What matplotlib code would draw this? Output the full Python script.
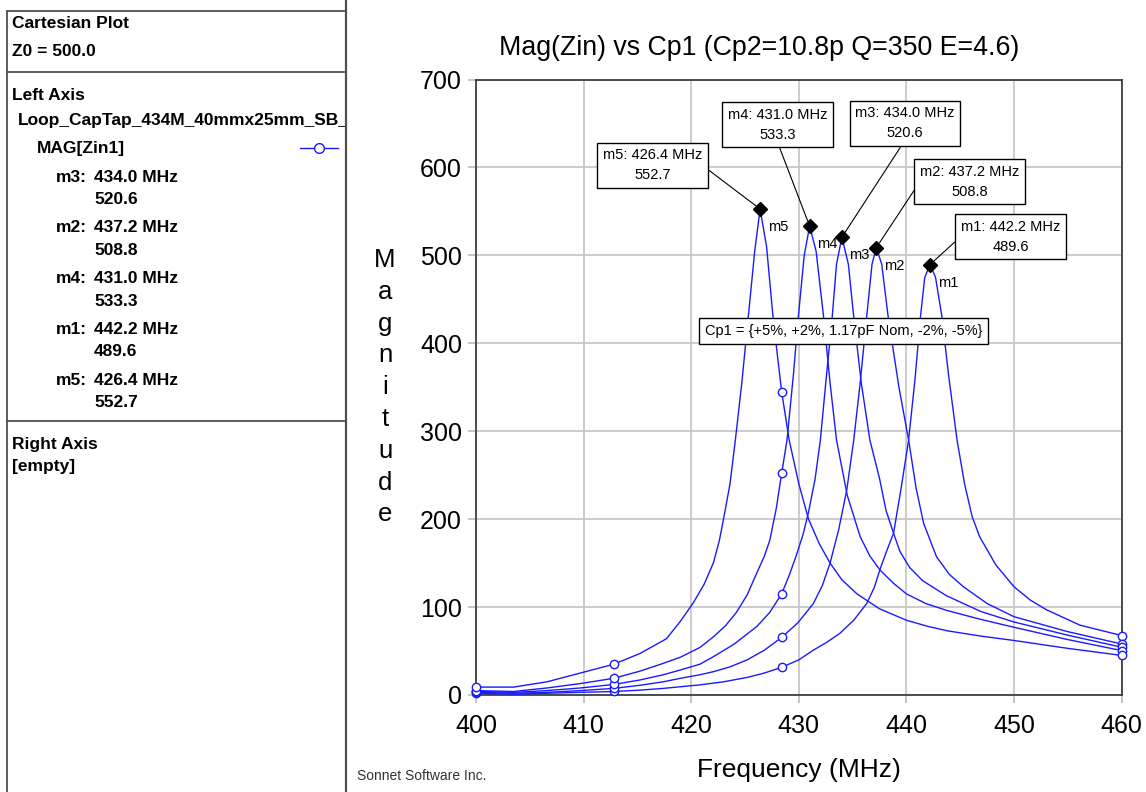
import matplotlib

matplotlib.use("Agg")
import numpy as np
import matplotlib.pyplot as plt
from matplotlib.transforms import Bbox, TransformedBbox

plt.rcParams["font.family"] = ["Liberation Sans", "DejaVu Sans"]

W, H = 1146, 792

# MAG[Zin1] for the five Cp1 values
F_M1 = [400, 403.5, 406.6, 409.7, 412.8, 415.2, 417.4, 419.0, 420.8, 423.0, 425.2, 426.8,
        428.4, 430.0, 431.35, 432.6, 433.8, 435.1, 436.3, 437.0, 437.6, 438.2, 438.8, 439.5,
        440.2, 440.8, 441.3, 441.7, 442.2, 442.7, 443.3, 443.9, 444.7, 445.4, 446.1, 446.8,
        448.3, 450.0, 451.5, 453.0, 456.1, 460.0]
Z_M1 = [2, 1, 2, 3, 4, 5.5, 7.5, 9.4, 11.5, 15, 20, 25,
        31.5, 40, 51, 60, 70, 85, 104, 122, 145, 165, 184, 235,
        290, 360, 430, 475, 489.6, 475, 430, 365, 290, 240, 203, 180,
        148, 123, 108, 97, 79.5, 67.6]

F_M2 = [400, 403.5, 406.6, 409.7, 412.8, 415.2, 417.4, 419.0, 420.8, 422.05, 423.6, 425.2,
        426.8, 428.4, 429.9, 431.35, 432.2, 432.9, 433.7, 434.45, 435.1, 435.7, 436.3, 436.8,
        437.2, 437.7, 438.3, 439.3, 440.2, 440.9, 441.6, 442.8, 444.0, 445.3, 447.5, 450.0,
        455.0, 460.0]
Z_M2 = [3, 2, 3, 5, 7.5, 11, 15, 19, 23, 26.5, 32, 40,
        51, 65.5, 82, 104, 125, 150, 188, 233, 290, 355, 430, 490,
        508.8, 490, 430, 350, 290, 235, 195, 157, 137, 123, 104, 89,
        72, 58]

F_M3 = [400, 403.5, 406.6, 409.7, 412.8, 415.2, 417.4, 419.0, 420.8, 422.05, 424.0, 426.1,
        427.3, 428.4, 429.1, 429.8, 430.4, 430.9, 431.5, 432.0, 432.5, 433.1, 433.5, 434.0,
        434.6, 435.1, 435.8, 436.6, 437.5, 438.1, 438.8, 439.4, 440.3, 441.5, 443.7, 446.9,
        450.0, 455.0, 460.0]
Z_M3 = [4, 3, 5, 8, 12, 17, 23, 28.5, 35, 43.5, 58, 78,
        94, 115, 136, 160, 183, 208, 245, 290, 355, 430, 490, 520.6,
        490, 430, 355, 290, 246, 210, 184, 163, 145, 130, 113, 95,
        83, 68, 54.3]

F_M4 = [400, 403.5, 406.6, 409.7, 412.8, 415.2, 417.4, 419.0, 420.8, 422.05, 423.2, 424.2,
        425.2, 426.1, 426.8, 427.3, 427.9, 428.4, 428.9, 429.5, 429.95, 430.5, 431.0, 431.6,
        432.3, 432.9, 433.5, 434.5, 435.7, 436.6, 437.55, 438.8, 440.0, 441.8, 443.8, 446.9,
        450.0, 455.0, 460.0]
Z_M4 = [5, 4, 8, 13, 19, 27, 36, 43, 54, 66, 79, 94,
        114, 139, 158, 176, 212, 252, 290, 365, 430, 500, 533.3, 505,
        430, 355, 290, 227, 180, 158, 142, 127, 115, 104, 96, 86,
        77, 63, 50.5]

F_M5 = [400, 403.5, 406.6, 409.7, 412.8, 415.2, 417.7, 419.0, 420.2, 421.2, 422.05, 422.6,
        423.0, 423.6, 424.1, 424.7, 425.3, 425.9, 426.4, 427.0, 427.6, 428.0, 428.4, 429.1,
        430.0, 430.9, 431.9, 432.9, 434.0, 435.4, 437.5, 440.0, 442.0, 443.8, 446.9, 450.0,
        455.0, 460.0]
Z_M5 = [9, 9, 15, 25, 35, 47, 64, 84, 105, 126, 150, 175,
        200, 240, 290, 355, 430, 505, 552.7, 510, 430, 387, 345, 290,
        240, 200, 172, 150, 131, 115, 98, 85, 78, 73, 67, 62,
        53, 45]

SYMBOL_FREQ = [400, 412.8, 428.4, 460]

MARKER_NAMES = ["m1", "m2", "m3", "m4", "m5"]
MARKER_FREQ = [442.2, 437.2, 434.0, 431.0, 426.4]
MARKER_MAG = [489.6, 508.8, 520.6, 533.3, 552.7]
PANEL_ORDER = ["m3", "m2", "m4", "m1", "m5"]

# box centre (data coords) and where the leader leaves the box
BOX_POS = {"m5": (416.4, 602.6), "m4": (428.0, 648.6), "m3": (439.85, 650.1),
           "m2": (445.86, 583.8), "m1": (449.66, 521.4)}
BOX_REL = {"m5": (1, 0.5), "m4": (0.5, 0), "m3": (0.5, 0), "m2": (0, 0.5), "m1": (0, 0.5)}

BLUE = "#1a1aff"

fig = plt.figure(figsize=(W / 100, H / 100), dpi=100)

ax = fig.add_axes([476 / W, 1 - 695 / H, 645.7 / W, 615.5 / H])
ax.set_xlim(400, 460)
ax.set_ylim(0, 700)
ax.set_xticks(np.arange(400, 461, 10))
ax.set_yticks(np.arange(0, 701, 100))
ax.grid(True, color="#c8c8c8", lw=1.3)
ax.tick_params(direction="out", length=6, width=1.3, color="#c0c0c0",
               labelsize=18, pad=4)
ax.tick_params(axis="x", pad=8)
for s in ax.spines.values():
    s.set_color("#404040")
    s.set_linewidth(1.3)

for f, z in [(F_M1, Z_M1), (F_M2, Z_M2), (F_M3, Z_M3), (F_M4, Z_M4), (F_M5, Z_M5)]:
    ax.plot(f, z, color=BLUE, lw=1.0, zorder=3, clip_on=False)
    ax.plot(SYMBOL_FREQ, np.interp(SYMBOL_FREQ, f, z), "o", ms=6, mfc="white",
            mec=BLUE, mew=1.0, zorder=4, clip_on=False)

ax.plot(MARKER_FREQ, MARKER_MAG, "D", color="black", ms=7.5, zorder=7)
for name, f, z in zip(MARKER_NAMES, MARKER_FREQ, MARKER_MAG):
    ax.annotate(name, (f, z), xytext=(5.5, -13), textcoords="offset points",
                ha="left", va="center", fontsize=10.5, zorder=7)
    ax.annotate(f"{name}: {f:.1f} MHz\n{z:.1f}", (f, z), xytext=BOX_POS[name],
                textcoords="data", ha="center", va="center", multialignment="center",
                fontsize=10.5, linespacing=1.55, zorder=8,
                bbox=dict(boxstyle="square,pad=0.38", fc="white", ec="black", lw=1.0),
                arrowprops=dict(arrowstyle="-", color="black", lw=0.8,
                                relpos=BOX_REL[name], shrinkA=0, shrinkB=4))

ax.text(434.14, 413.6, "Cp1 = {+5%, +2%, 1.17pF Nom, -2%, -5%}", ha="center", va="center",
        fontsize=10.5, zorder=8,
        bbox=dict(boxstyle="square,pad=0.4", fc="white", ec="black", lw=1.0))

# overlay in pixel coordinates for panel, title and labels
over = fig.add_axes([0, 0, 1, 1], zorder=-1)
over.set_xlim(0, W)
over.set_ylim(H, 0)
over.axis("off")

over.text(759, 48, "Mag(Zin) vs Cp1 (Cp2=10.8p Q=350 E=4.6)", ha="center", va="center",
          fontsize=19.3)
over.text(799, 770, "Frequency (MHz)", ha="center", va="center", fontsize=19)
for i, ch in enumerate("Magnitude"):
    over.text(385, 267 + 31.8 * i, ch, ha="center", va="baseline", fontsize=18.5)
over.text(357, 776, "Sonnet Software Inc.", ha="left", va="center", fontsize=10,
          color="#333333")

# left info panel
PC = "#505050"
over.plot([7, 346], [11, 11], color=PC, lw=1.3)
over.plot([7, 7], [11, H], color=PC, lw=1.3)
over.plot([346, 346], [0, H], color=PC, lw=1.6)
over.plot([7, 346], [71.5, 71.5], color=PC, lw=1.3)
over.plot([7, 346], [421, 421], color=PC, lw=1.3)

kw = dict(ha="left", va="center", fontsize=12.5, weight="bold")
over.text(12, 23, "Cartesian Plot", **kw)
over.text(12, 51, "Z0 = 500.0", **kw)
over.text(12, 95, "Left Axis", **kw)
t = over.text(18, 120, "Loop_CapTap_434M_40mmx25mm_SB_Cp1", **kw)
t.set_clip_box(TransformedBbox(Bbox([[0, 0], [345, H]]), over.transData))
t.set_clip_on(True)
over.text(37, 148, "MAG[Zin1]", **kw)
over.plot([300, 338], [148, 148], color=BLUE, lw=1.0)
over.plot([319], [148], "o", ms=7, mfc="white", mec=BLUE, mew=1.0)
for i, name in enumerate(PANEL_ORDER):
    k = MARKER_NAMES.index(name)
    y = 177 + 50.8 * i
    over.text(56, y, f"{name}:", **kw)
    over.text(94, y, f"{MARKER_FREQ[k]:.1f} MHz", **kw)
    over.text(94, y + 22.5, f"{MARKER_MAG[k]:.1f}", **kw)
over.text(12, 444, "Right Axis", **kw)
over.text(12, 467, "[empty]", **kw)

fig.savefig("out.png", dpi=100)
